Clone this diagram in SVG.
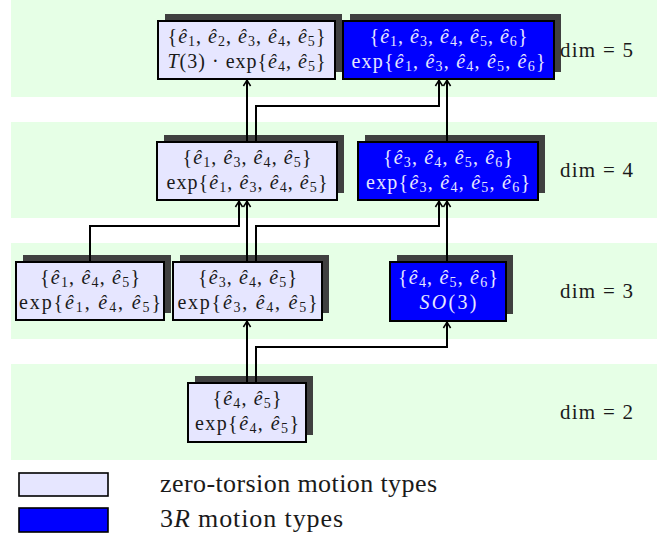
<svg xmlns="http://www.w3.org/2000/svg" width="666" height="537" viewBox="0 0 666 537">
  <style>
    .band { fill: #e6ffe6; }
    .shadow { fill: #404040; }
    .zt { fill: #e6e6ff; stroke: #000; stroke-width: 2; }
    .r3 { fill: #0000ff; stroke: #000; stroke-width: 2; }
    text { font-family: "Liberation Serif", "DejaVu Serif", serif; font-size: 20px; text-anchor: middle; fill: #1a1a1a; }
    .light text { fill: #e6e6ff; }
    .v { font-style: italic; }
    .s { font-size: 14px; }
    .dim { text-anchor: start; font-size: 21px; }
    .leg { text-anchor: start; font-size: 26px; }
    .edge { fill: none; stroke: #000; stroke-width: 2; marker-end: url(#tip); }
  </style>
  <defs>
    <marker id="tip" markerUnits="userSpaceOnUse" viewBox="-8 -5 10 10" refX="0" refY="0" markerWidth="10" markerHeight="10" orient="auto">
      <path d="M-6,-3.6 Q-2,-1 0,0 Q-2,1 -6,3.6" fill="none" stroke="#000" stroke-width="1.6"/>
    </marker>
  </defs>

  <!-- dimension bands -->
  <g id="bands">
    <rect class="band" x="11" y="0" width="646" height="97"/>
    <rect class="band" x="11" y="122" width="646" height="96"/>
    <rect class="band" x="11" y="243" width="646" height="96"/>
    <rect class="band" x="11" y="364" width="646" height="96"/>
  </g>

  <!-- dim = 5 -->
  <g id="n-e12345">
    <rect class="shadow" x="165" y="14" width="177" height="58"/>
    <rect class="zt" x="158" y="21" width="177" height="58"/>
    <text x="246.5" y="43" textLength="158">{<tspan class="v">ê</tspan><tspan class="s" dy="3">1</tspan><tspan dy="-3">, </tspan><tspan class="v">ê</tspan><tspan class="s" dy="3">2</tspan><tspan dy="-3">, </tspan><tspan class="v">ê</tspan><tspan class="s" dy="3">3</tspan><tspan dy="-3">, </tspan><tspan class="v">ê</tspan><tspan class="s" dy="3">4</tspan><tspan dy="-3">, </tspan><tspan class="v">ê</tspan><tspan class="s" dy="3">5</tspan><tspan dy="-3">}</tspan></text>
    <text x="246.5" y="68" textLength="158"><tspan class="v">T</tspan>(3) · exp{<tspan class="v">ê</tspan><tspan class="s" dy="3">4</tspan><tspan dy="-3">, </tspan><tspan class="v">ê</tspan><tspan class="s" dy="3">5</tspan><tspan dy="-3">}</tspan></text>
  </g>
  <g id="n-e13456" class="light">
    <rect class="shadow" x="350" y="14" width="211" height="58"/>
    <rect class="r3" x="343" y="21" width="211" height="58"/>
    <text x="448.5" y="43" textLength="158">{<tspan class="v">ê</tspan><tspan class="s" dy="3">1</tspan><tspan dy="-3">, </tspan><tspan class="v">ê</tspan><tspan class="s" dy="3">3</tspan><tspan dy="-3">, </tspan><tspan class="v">ê</tspan><tspan class="s" dy="3">4</tspan><tspan dy="-3">, </tspan><tspan class="v">ê</tspan><tspan class="s" dy="3">5</tspan><tspan dy="-3">, </tspan><tspan class="v">ê</tspan><tspan class="s" dy="3">6</tspan><tspan dy="-3">}</tspan></text>
    <text x="448.5" y="68" textLength="194">exp{<tspan class="v">ê</tspan><tspan class="s" dy="3">1</tspan><tspan dy="-3">, </tspan><tspan class="v">ê</tspan><tspan class="s" dy="3">3</tspan><tspan dy="-3">, </tspan><tspan class="v">ê</tspan><tspan class="s" dy="3">4</tspan><tspan dy="-3">, </tspan><tspan class="v">ê</tspan><tspan class="s" dy="3">5</tspan><tspan dy="-3">, </tspan><tspan class="v">ê</tspan><tspan class="s" dy="3">6</tspan><tspan dy="-3">}</tspan></text>
  </g>

  <!-- dim = 4 -->
  <g id="n-e1345">
    <rect class="shadow" x="164" y="135" width="180" height="58"/>
    <rect class="zt" x="157" y="142" width="180" height="58"/>
    <text x="247" y="164" textLength="129">{<tspan class="v">ê</tspan><tspan class="s" dy="3">1</tspan><tspan dy="-3">, </tspan><tspan class="v">ê</tspan><tspan class="s" dy="3">3</tspan><tspan dy="-3">, </tspan><tspan class="v">ê</tspan><tspan class="s" dy="3">4</tspan><tspan dy="-3">, </tspan><tspan class="v">ê</tspan><tspan class="s" dy="3">5</tspan><tspan dy="-3">}</tspan></text>
    <text x="247" y="189" textLength="161">exp{<tspan class="v">ê</tspan><tspan class="s" dy="3">1</tspan><tspan dy="-3">, </tspan><tspan class="v">ê</tspan><tspan class="s" dy="3">3</tspan><tspan dy="-3">, </tspan><tspan class="v">ê</tspan><tspan class="s" dy="3">4</tspan><tspan dy="-3">, </tspan><tspan class="v">ê</tspan><tspan class="s" dy="3">5</tspan><tspan dy="-3">}</tspan></text>
  </g>
  <g id="n-e3456" class="light">
    <rect class="shadow" x="365" y="135" width="180" height="58"/>
    <rect class="r3" x="358" y="142" width="180" height="58"/>
    <text x="448" y="164" textLength="130">{<tspan class="v">ê</tspan><tspan class="s" dy="3">3</tspan><tspan dy="-3">, </tspan><tspan class="v">ê</tspan><tspan class="s" dy="3">4</tspan><tspan dy="-3">, </tspan><tspan class="v">ê</tspan><tspan class="s" dy="3">5</tspan><tspan dy="-3">, </tspan><tspan class="v">ê</tspan><tspan class="s" dy="3">6</tspan><tspan dy="-3">}</tspan></text>
    <text x="448" y="189" textLength="164">exp{<tspan class="v">ê</tspan><tspan class="s" dy="3">3</tspan><tspan dy="-3">, </tspan><tspan class="v">ê</tspan><tspan class="s" dy="3">4</tspan><tspan dy="-3">, </tspan><tspan class="v">ê</tspan><tspan class="s" dy="3">5</tspan><tspan dy="-3">, </tspan><tspan class="v">ê</tspan><tspan class="s" dy="3">6</tspan><tspan dy="-3">}</tspan></text>
  </g>

  <!-- dim = 3 -->
  <g id="n-e145">
    <rect class="shadow" x="23" y="255" width="148" height="58"/>
    <rect class="zt" x="16" y="262" width="148" height="58"/>
    <text x="90" y="284" textLength="100">{<tspan class="v">ê</tspan><tspan class="s" dy="3">1</tspan><tspan dy="-3">, </tspan><tspan class="v">ê</tspan><tspan class="s" dy="3">4</tspan><tspan dy="-3">, </tspan><tspan class="v">ê</tspan><tspan class="s" dy="3">5</tspan><tspan dy="-3">}</tspan></text>
    <text x="90" y="309" textLength="142">exp{<tspan class="v">ê</tspan><tspan class="s" dy="3">1</tspan><tspan dy="-3">, </tspan><tspan class="v">ê</tspan><tspan class="s" dy="3">4</tspan><tspan dy="-3">, </tspan><tspan class="v">ê</tspan><tspan class="s" dy="3">5</tspan><tspan dy="-3">}</tspan></text>
  </g>
  <g id="n-e345">
    <rect class="shadow" x="180" y="255" width="149" height="58"/>
    <rect class="zt" x="173" y="262" width="149" height="58"/>
    <text x="247.5" y="284" textLength="99">{<tspan class="v">ê</tspan><tspan class="s" dy="3">3</tspan><tspan dy="-3">, </tspan><tspan class="v">ê</tspan><tspan class="s" dy="3">4</tspan><tspan dy="-3">, </tspan><tspan class="v">ê</tspan><tspan class="s" dy="3">5</tspan><tspan dy="-3">}</tspan></text>
    <text x="247.5" y="309" textLength="140">exp{<tspan class="v">ê</tspan><tspan class="s" dy="3">3</tspan><tspan dy="-3">, </tspan><tspan class="v">ê</tspan><tspan class="s" dy="3">4</tspan><tspan dy="-3">, </tspan><tspan class="v">ê</tspan><tspan class="s" dy="3">5</tspan><tspan dy="-3">}</tspan></text>
  </g>
  <g id="n-e456" class="light">
    <rect class="shadow" x="397" y="255" width="116" height="59"/>
    <rect class="r3" x="390" y="262" width="116" height="59"/>
    <text x="448" y="284" textLength="100">{<tspan class="v">ê</tspan><tspan class="s" dy="3">4</tspan><tspan dy="-3">, </tspan><tspan class="v">ê</tspan><tspan class="s" dy="3">5</tspan><tspan dy="-3">, </tspan><tspan class="v">ê</tspan><tspan class="s" dy="3">6</tspan><tspan dy="-3">}</tspan></text>
    <text x="448" y="309" textLength="57"><tspan class="v">SO</tspan>(3)</text>
  </g>

  <!-- dim = 2 -->
  <g id="n-e45">
    <rect class="shadow" x="195" y="376" width="118" height="59"/>
    <rect class="zt" x="188" y="383" width="118" height="59"/>
    <text x="247" y="405" textLength="69">{<tspan class="v">ê</tspan><tspan class="s" dy="3">4</tspan><tspan dy="-3">, </tspan><tspan class="v">ê</tspan><tspan class="s" dy="3">5</tspan><tspan dy="-3">}</tspan></text>
    <text x="247" y="430" textLength="104">exp{<tspan class="v">ê</tspan><tspan class="s" dy="3">4</tspan><tspan dy="-3">, </tspan><tspan class="v">ê</tspan><tspan class="s" dy="3">5</tspan><tspan dy="-3">}</tspan></text>
  </g>

  <!-- inclusion arrows -->
  <g id="connectors">
    <path class="edge" d="M247,383 V321"/>
    <path class="edge" d="M256,383 V347 H447 V322"/>
    <path class="edge" d="M90,262 V226 H239 V201"/>
    <path class="edge" d="M247,262 V201"/>
    <path class="edge" d="M256,262 V226 H439 V201"/>
    <path class="edge" d="M447,262 V201"/>
    <path class="edge" d="M247,142 V80"/>
    <path class="edge" d="M256,142 V106 H439 V80"/>
    <path class="edge" d="M447,142 V80"/>
  </g>

  <!-- dimension labels -->
  <g id="dims">
    <text class="dim" x="560" y="57" textLength="73">dim = 5</text>
    <text class="dim" x="560" y="177" textLength="73">dim = 4</text>
    <text class="dim" x="560" y="298" textLength="73">dim = 3</text>
    <text class="dim" x="560" y="419" textLength="73">dim = 2</text>
  </g>

  <!-- legend -->
  <g id="legend">
    <rect x="19" y="473" width="89" height="23" fill="#e6e6ff" stroke="#000" stroke-width="1.6"/>
    <rect x="19" y="508" width="89" height="24" fill="#0000ff" stroke="#000" stroke-width="1.6"/>
    <text class="leg" x="160" y="492" textLength="277">zero-torsion motion types</text>
    <text class="leg" x="160" y="527" textLength="183">3<tspan class="v">R</tspan> motion types</text>
  </g>
</svg>
